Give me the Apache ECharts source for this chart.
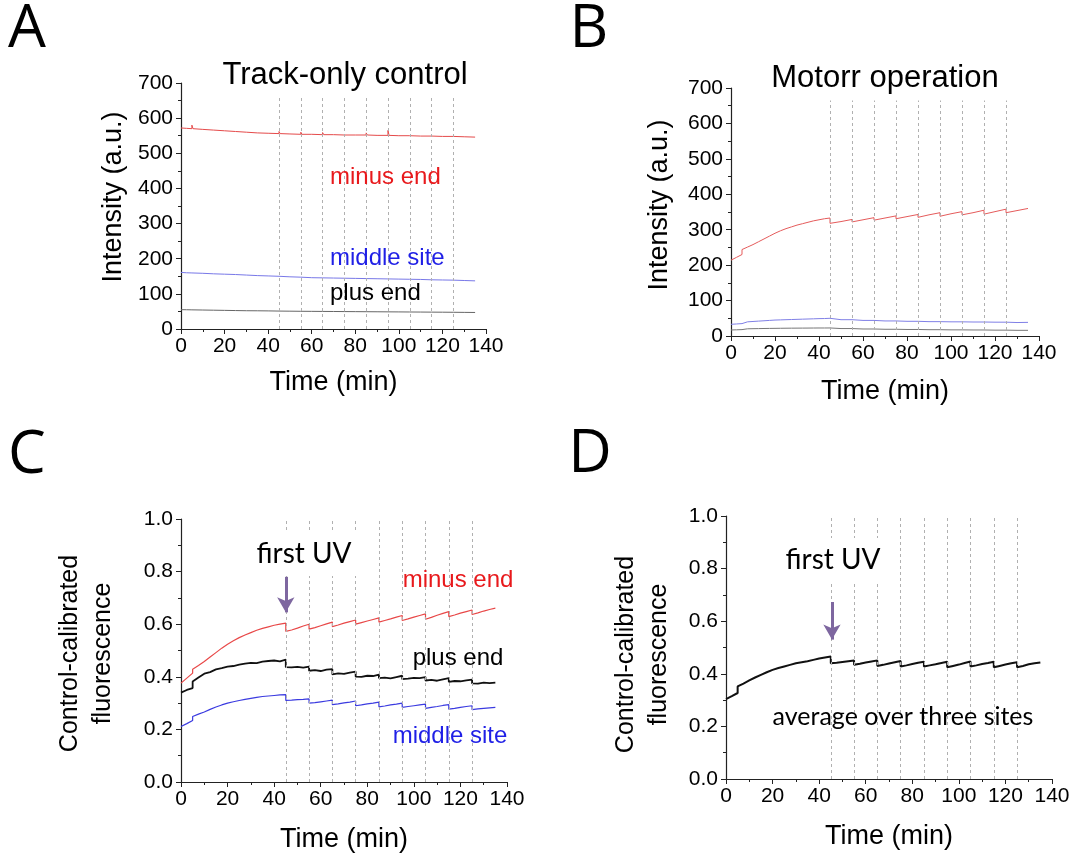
<!DOCTYPE html>
<html><head><meta charset="utf-8">
<script src="https://cdn.jsdelivr.net/npm/echarts@6/dist/echarts.min.js"></script>
<style>html,body{margin:0;padding:0;background:#fff}#c{width:1074px;height:858px}</style>
</head><body><div id="c"></div>
<script>
// ---------- DATA ----------
const uvTimes = [45, 55, 65, 75, 85, 95, 105, 115, 125];

// Panel A: Track-only control (duplicated times = short spikes at UV exposures)
const timeA = [0,2.5,5,5,5.5,10,15,20,25,30,35,40,45,45,45.5,50,55,55,55.5,60,65,65,65.5,70,75,75,75.5,80,85,85,85.5,90,95,95,95.5,100,105,105,105.5,110,115,115,115.5,120,125,125,125.5,130,135];
const minusA = [572,571,570,580,570,568,566,564,562,560,558,557,556,562,556,555,554,560,554,554,553,559,553,553,552,557,552,552,552,558,552,551,551,565,551,550,550,555,550,549,549,553,549,548,548,552,548,547,546];
const middleA = [161,160,159.5,159.5,159.5,158.5,157,156,155,153.5,152,151,150,150,150,148.5,147.5,147.5,147.5,146,145.5,145.5,145.5,145,144.5,144.5,144.5,144,143.5,143.5,143.5,143,142.5,142.5,142.5,142,141.5,141.5,141.5,141,140,140,140,139.5,139,139,139,138,137];
const plusA = [55,54.8,54.5,54.5,54.5,54,53.5,53,52.5,52,51.8,51.5,51,51,51,50.7,50.4,50.4,50.4,50.2,50,50,50,49.8,49.6,49.6,49.6,49.4,49.2,49.2,49.2,49,48.8,48.8,48.8,48.6,48.4,48.4,48.4,48.2,48,48,48,47.8,47.6,47.6,47.6,47.3,47];

// Panel B: Motorr operation
const timeB = [0,2.5,5,5,7.5,10,12.5,15,17.5,20,22.5,25,27.5,30,32.5,35,37.5,40,42.5,45,45,50,55,55,60,65,65,70,75,75,80,85,85,90,95,95,100,105,105,110,115,115,120,125,125,130,135];
const minusB = [214,222,230,244,251,258,266,274,282,290,297,303,308,313,317,321,325,328,331,333,318,323,329,322,328,334,327,333,339,331,337,343,335,342,348,338,345,351,342,348,355,344,351,358,348,354,360];
const middleB = [33,34,35,39,40,41,42,43,44,45,45.5,46,46.5,47,47.5,48,48.5,49,49.3,50,46,46,46,44,44,44,42.5,42.5,42.5,41.5,41.5,41.5,40.5,40.5,40.5,40,40,40,39.5,39.5,39.5,39,39,39,37.5,38,38.5];
const plusB = [17,17.5,18,20,20.3,20.6,20.9,21.2,21.4,21.6,21.8,22,22.1,22.2,22.3,22.4,22.5,22.6,22.6,22.7,21,21,21,19.8,19.8,19.8,19,19,19,18.4,18.4,18.4,17.8,17.8,17.8,17.3,17.3,17.3,17,17,17,16.5,16.5,16.5,16,16,16];

// Panels C and D: control-calibrated fluorescence
const timeCD = [0,2.5,5,5,7.5,10,12.5,15,17.5,20,22.5,25,27.5,30,32.5,35,37.5,40,42.5,45,45,47.5,50,52.5,55,55,57.5,60,62.5,65,65,67.5,70,72.5,75,75,77.5,80,82.5,85,85,87.5,90,92.5,95,95,97.5,100,102.5,105,105,107.5,110,112.5,115,115,117.5,120,122.5,125,125,127.5,130,132.5,135];
const minusC = [0.376,0.395,0.414,0.429,0.443,0.458,0.475,0.492,0.509,0.524,0.537,0.549,0.559,0.568,0.577,0.584,0.590,0.596,0.600,0.604,0.573,0.578,0.585,0.593,0.600,0.581,0.587,0.594,0.601,0.608,0.591,0.597,0.604,0.610,0.616,0.600,0.606,0.612,0.618,0.624,0.608,0.614,0.620,0.627,0.633,0.614,0.620,0.627,0.633,0.639,0.619,0.626,0.634,0.641,0.648,0.629,0.635,0.642,0.648,0.654,0.637,0.643,0.650,0.656,0.661];
const plusC = [0.340,0.350,0.357,0.382,0.397,0.412,0.418,0.428,0.433,0.439,0.441,0.446,0.450,0.453,0.452,0.458,0.460,0.462,0.459,0.465,0.437,0.436,0.438,0.435,0.439,0.423,0.425,0.422,0.427,0.429,0.409,0.413,0.411,0.416,0.420,0.401,0.400,0.404,0.403,0.408,0.395,0.397,0.394,0.399,0.404,0.391,0.393,0.396,0.395,0.399,0.386,0.388,0.385,0.390,0.395,0.381,0.384,0.383,0.386,0.389,0.375,0.374,0.378,0.376,0.378];
const middleC = [0.211,0.222,0.234,0.249,0.258,0.266,0.276,0.285,0.293,0.300,0.305,0.310,0.314,0.318,0.322,0.325,0.327,0.329,0.331,0.332,0.310,0.311,0.313,0.314,0.316,0.300,0.302,0.305,0.308,0.311,0.294,0.297,0.301,0.304,0.308,0.290,0.293,0.297,0.300,0.304,0.286,0.289,0.293,0.296,0.300,0.284,0.287,0.290,0.293,0.296,0.280,0.284,0.287,0.291,0.294,0.277,0.280,0.284,0.287,0.290,0.275,0.278,0.280,0.282,0.284];
const averageD = [0.304,0.315,0.327,0.352,0.363,0.375,0.386,0.396,0.406,0.415,0.422,0.428,0.434,0.440,0.444,0.448,0.453,0.458,0.462,0.466,0.440,0.442,0.445,0.448,0.451,0.434,0.438,0.443,0.447,0.451,0.430,0.434,0.439,0.444,0.449,0.428,0.432,0.437,0.442,0.446,0.428,0.432,0.436,0.441,0.446,0.425,0.430,0.435,0.441,0.447,0.428,0.432,0.437,0.441,0.446,0.425,0.430,0.435,0.440,0.444,0.425,0.430,0.436,0.440,0.443];

// ---------- CHART ----------
const FONT = "'Liberation Sans', Arial, sans-serif";
const zip = (t, v) => t.map((x, i) => [x, v[i]]);

function xAx(gi, gap) {
  return { type: 'value', gridIndex: gi, min: 0, max: 140, interval: 20,
    name: 'Time (min)', nameLocation: 'middle', nameGap: gap,
    nameTextStyle: { fontSize: 27, color: '#000', fontFamily: FONT },
    axisLine: { onZero: false, lineStyle: { color: '#222', width: 1.2 } },
    axisTick: { show: true, length: 5, lineStyle: { color: '#222' } },
    minorTick: { show: true, splitNumber: 2, length: 3, lineStyle: { color: '#222' } },
    axisLabel: { fontSize: 21, color: '#000', fontFamily: FONT, margin: 7 },
    splitLine: { show: false } };
}
function yAx(gi, max, interval, name, gap, fmt, pad, lh) {
  return { type: 'value', gridIndex: gi, min: 0, max: max, interval: interval,
    name: name, nameLocation: 'middle', nameGap: gap,
    nameTextStyle: { fontSize: lh ? 25 : 27, color: '#000', fontFamily: FONT, padding: pad, lineHeight: lh || 30 },
    axisLine: { show: true, onZero: false, lineStyle: { color: '#222', width: 1.2 } },
    axisTick: { show: true, length: 5, lineStyle: { color: '#222' } },
    minorTick: { show: true, splitNumber: 2, length: 3, lineStyle: { color: '#222' } },
    axisLabel: { fontSize: 21, color: '#000', fontFamily: FONT, margin: 8, formatter: fmt },
    splitLine: { show: false } };
}
function uvLines(gi, top) {
  return { type: 'line', xAxisIndex: gi, yAxisIndex: gi, data: [], z: 1, silent: true,
    markLine: { silent: true, symbol: 'none', animation: false, label: { show: false },
      lineStyle: { color: '#b0b0b0', type: [3, 3], width: 1 },
      data: uvTimes.map(t => [{ coord: [t, 0] }, { coord: [t, top] }]) } };
}
function arrow(gi, x, y0, y1) {
  return { type: 'line', xAxisIndex: gi, yAxisIndex: gi, data: [], z: 5, silent: true,
    markLine: { silent: true, symbol: ['none', 'arrow'], symbolSize: [13, 15], animation: false,
      label: { show: false }, lineStyle: { color: '#7e67a0', type: 'solid', width: 3 },
      data: [[{ coord: [x, y0] }, { coord: [x, y1] }]] } };
}
function ln(gi, t, v, color, w) {
  return { type: 'line', xAxisIndex: gi, yAxisIndex: gi, data: zip(t, v), showSymbol: false,
    symbol: 'none', z: 3, lineStyle: { color: color, width: w }, silent: true };
}
const f1 = v => v.toFixed(1);
function txt(x, y, s, font, color, align) {
  return { type: 'text', x: x, y: y, z: 100,
    style: { text: s, font: font, fill: color, align: align || 'center', verticalAlign: 'middle' } };
}
function boxTxt(x, y, s, font) {
  return { type: 'text', x: x, y: y, z: 100,
    style: { text: s, font: font, fill: '#000', align: 'center', verticalAlign: 'middle', backgroundColor: '#fff', padding: [8, 6] } };
}

const chart = echarts.init(document.getElementById('c'), null, { renderer: 'canvas' });
chart.setOption({
  animation: false,
  backgroundColor: '#fff',
  grid: [
    { left: 181, top: 83, width: 305, height: 246 },
    { left: 731, top: 88, width: 308, height: 248 },
    { left: 181, top: 519, width: 326, height: 263 },
    { left: 726, top: 516, width: 326, height: 263 }
  ],
  xAxis: [xAx(0, 40), xAx(1, 42), xAx(2, 44), xAx(3, 44)],
  yAxis: [
    yAx(0, 700, 100, 'Intensity (a.u.)', 52, null, [0, 0, 0, 18]),
    yAx(1, 700, 100, 'Intensity (a.u.)', 56, null, [0, 0, 0, 14]),
    yAx(2, 1, 0.2, 'Control-calibrated\nfluorescence', 61, f1, [0, 6, 0, 0], 33),
    yAx(3, 1, 0.2, 'Control-calibrated\nfluorescence', 50, f1, [0, 14, 0, 0], 33)
  ],
  series: [
    uvLines(0, 665), uvLines(1, 665), uvLines(2, 1), uvLines(3, 1),
    ln(0, timeA, minusA, '#e54a4a', 1), ln(0, timeA, middleA, '#7878e8', 1), ln(0, timeA, plusA, '#666', 1),
    ln(1, timeB, minusB, '#e55b5b', 1), ln(1, timeB, middleB, '#7f7fe6', 1), ln(1, timeB, plusB, '#777', 1),
    ln(2, timeCD, minusC, '#e84848', 1.2), ln(2, timeCD, plusC, '#111', 1.8), ln(2, timeCD, middleC, '#3b3be0', 1.2),
    ln(3, timeCD, averageD, '#111', 2),
    arrow(2, 45, 0.78, 0.645), arrow(3, 45.5, 0.673, 0.53)
  ],
  graphic: [
    txt(27, 30, 'A', '60px "Open Sans"', '#000'),
    txt(589, 30, 'B', '60px "Open Sans"', '#000'),
    txt(27, 456, 'C', '60px "Open Sans"', '#000'),
    txt(590, 455, 'D', '60px "Open Sans"', '#000'),
    txt(345, 75, 'Track-only control', '31px "Liberation Sans"', '#000'),
    txt(885, 78, 'Motorr operation', '31px "Liberation Sans"', '#000'),
    txt(330, 177, 'minus end', '24px "Liberation Sans"', '#e8191c', 'left'),
    txt(330, 258, 'middle site', '24px "Liberation Sans"', '#1f1fe6', 'left'),
    txt(330, 293, 'plus end', '24px "Liberation Sans"', '#000', 'left'),
    boxTxt(304, 554, 'first UV', '28px Lato'),
    txt(458, 580, 'minus end', '24px "Liberation Sans"', '#e8191c'),
    txt(458, 658, 'plus end', '24px "Liberation Sans"', '#000'),
    txt(450, 736, 'middle site', '24px "Liberation Sans"', '#1f1fe6'),
    boxTxt(833, 560, 'first UV', '28px Lato'),
    txt(903, 717, 'average over three sites', '25px Lato', '#000')
  ]
});
</script></body></html>
